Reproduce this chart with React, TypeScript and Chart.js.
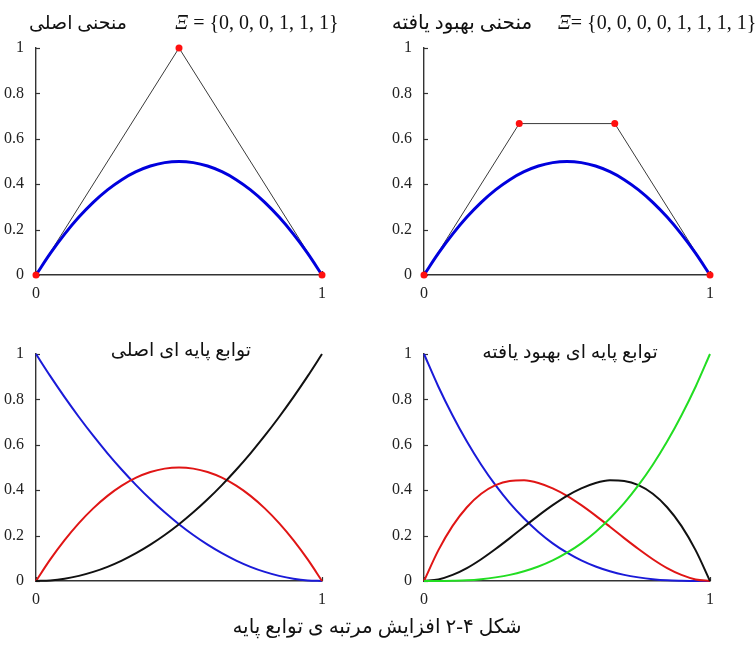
import React, { useEffect, useRef } from "react";
import { Chart, registerables } from "chart.js";

Chart.register(...registerables);

// parameter samples (x positions) shared by all curves
const tValues = [0, 0.05, 0.1, 0.15, 0.2, 0.25, 0.3, 0.35, 0.4, 0.45, 0.5, 0.55, 0.6, 0.65, 0.7, 0.75, 0.8, 0.85, 0.9, 0.95, 1];

// Bezier curve (same in both top plots)
const curveValues = [0, 0.095, 0.18, 0.255, 0.32, 0.375, 0.42, 0.455, 0.48, 0.495, 0.5, 0.495, 0.48, 0.455, 0.42, 0.375, 0.32, 0.255, 0.18, 0.095, 0];

// control polygons
const polyOrigX = [0, 0.5, 1];
const polyOrigY = [0, 1, 0];
const polyElevX = [0, 0.333, 0.667, 1];
const polyElevY = [0, 0.667, 0.667, 0];

// degree-2 basis functions
const basis2Blue = [1, 0.9025, 0.81, 0.7225, 0.64, 0.5625, 0.49, 0.4225, 0.36, 0.3025, 0.25, 0.2025, 0.16, 0.1225, 0.09, 0.0625, 0.04, 0.0225, 0.01, 0.0025, 0];
const basis2Red = [0, 0.095, 0.18, 0.255, 0.32, 0.375, 0.42, 0.455, 0.48, 0.495, 0.5, 0.495, 0.48, 0.455, 0.42, 0.375, 0.32, 0.255, 0.18, 0.095, 0];
const basis2Black = [0, 0.0025, 0.01, 0.0225, 0.04, 0.0625, 0.09, 0.1225, 0.16, 0.2025, 0.25, 0.3025, 0.36, 0.4225, 0.49, 0.5625, 0.64, 0.7225, 0.81, 0.9025, 1];

// degree-3 basis functions
const basis3Blue = [1, 0.857, 0.729, 0.614, 0.512, 0.422, 0.343, 0.275, 0.216, 0.166, 0.125, 0.091, 0.064, 0.043, 0.027, 0.016, 0.008, 0.003, 0.001, 0, 0];
const basis3Red = [0, 0.135, 0.243, 0.325, 0.384, 0.422, 0.441, 0.444, 0.432, 0.408, 0.375, 0.334, 0.288, 0.239, 0.189, 0.141, 0.096, 0.057, 0.027, 0.007, 0];
const basis3Black = [0, 0.007, 0.027, 0.057, 0.096, 0.141, 0.189, 0.239, 0.288, 0.334, 0.375, 0.408, 0.432, 0.444, 0.441, 0.422, 0.384, 0.325, 0.243, 0.135, 0];
const basis3Green = [0, 0, 0.001, 0.003, 0.008, 0.016, 0.027, 0.043, 0.064, 0.091, 0.125, 0.166, 0.216, 0.275, 0.343, 0.422, 0.512, 0.614, 0.729, 0.857, 1];

// tick values and labels
const xTickValues = [0, 1];
const xTickLabels = ["0", "1"];
const yTickValues = [0, 0.2, 0.4, 0.6, 0.8, 1];
const yTickLabels = ["0", "0.2", "0.4", "0.6", "0.8", "1"];

const SERIF = '"Liberation Serif", "Times New Roman", serif';
const PERSIAN = '"Liberation Serif", "DejaVu Sans", serif';
const AXIS_COLOR = "#333333";

const pts = (xs: number[], ys: number[]) => xs.map((x, i) => ({ x, y: ys[i] }));

const inwardTicks = {
  id: "inwardTicks",
  beforeDatasetsDraw(chart: any) {
    const { ctx, chartArea, scales } = chart;
    const x = scales.x;
    const y = scales.y;
    ctx.save();
    ctx.strokeStyle = AXIS_COLOR;
    ctx.lineWidth = 1.2;
    y.ticks.forEach((t: any) => {
      const py = Math.round(y.getPixelForValue(t.value)) + 0.5;
      ctx.beginPath();
      ctx.moveTo(chartArea.left, py);
      ctx.lineTo(chartArea.left + 4, py);
      ctx.stroke();
    });
    x.ticks.forEach((t: any) => {
      const px = Math.round(x.getPixelForValue(t.value)) + 0.5;
      ctx.beginPath();
      ctx.moveTo(px, chartArea.bottom);
      ctx.lineTo(px, chartArea.bottom - 4);
      ctx.stroke();
    });
    ctx.restore();
  },
};

function makeOptions(): any {
  const tickFont = { family: SERIF, size: 16 };
  return {
    animation: false,
    responsive: false,
    maintainAspectRatio: false,
    layout: { padding: { top: 20, right: 23, left: 0, bottom: 0 } },
    plugins: { legend: { display: false }, tooltip: { enabled: false }, title: { display: false } },
    scales: {
      x: {
        type: "linear",
        min: 0,
        max: 1,
        afterBuildTicks: (s: any) => {
          s.ticks = xTickValues.map((v) => ({ value: v }));
        },
        afterFit: (s: any) => {
          s.height = 40;
        },
        grid: { display: false },
        border: { display: true, color: AXIS_COLOR, width: 1.4 },
        ticks: {
          color: "#222",
          font: tickFont,
          padding: 1,
          maxRotation: 0,
          autoSkip: false,
          callback: (v: number) => xTickLabels[xTickValues.indexOf(v)] ?? String(v),
        },
      },
      y: {
        type: "linear",
        min: 0,
        max: 1,
        afterBuildTicks: (s: any) => {
          s.ticks = yTickValues.map((v) => ({ value: v }));
        },
        afterFit: (s: any) => {
          s.width = 36;
        },
        grid: { display: false },
        border: { display: true, color: AXIS_COLOR, width: 1.4 },
        ticks: {
          color: "#222",
          font: tickFont,
          padding: 4,
          autoSkip: false,
          callback: (v: number) => yTickLabels[yTickValues.indexOf(v)] ?? String(v),
        },
      },
    },
  };
}

function lineDs(xs: number[], ys: number[], color: string, width: number): any {
  return {
    data: pts(xs, ys),
    showLine: true,
    borderColor: color,
    borderWidth: width,
    pointRadius: 0,
    fill: false,
    clip: 10,
    cubicInterpolationMode: "monotone",
  };
}

function polyDs(xs: number[], ys: number[]): any {
  return {
    data: pts(xs, ys),
    showLine: true,
    borderColor: "#3a3a3a",
    borderWidth: 1,
    pointRadius: 0,
    fill: false,
    clip: 10,
  };
}

function markerDs(xs: number[], ys: number[]): any {
  return {
    data: pts(xs, ys),
    showLine: false,
    pointRadius: 3.5,
    pointBackgroundColor: "#ff1010",
    pointBorderWidth: 0,
    borderColor: "#ff1010",
    clip: 10,
  };
}

const CANVAS_W = 345;
const CANVAS_H = 287;

function Plot({ left, top, datasets }: { left: number; top: number; datasets: any[] }) {
  const ref = useRef<HTMLCanvasElement | null>(null);
  useEffect(() => {
    if (!ref.current) return;
    const chart = new Chart(ref.current, {
      type: "scatter",
      data: { datasets },
      options: makeOptions(),
      plugins: [inwardTicks],
    } as any);
    return () => chart.destroy();
  }, []);
  return (
    <canvas
      ref={ref}
      width={CANVAS_W}
      height={CANVAS_H}
      style={{ position: "absolute", left, top, width: CANVAS_W, height: CANVAS_H }}
    />
  );
}

function Label({ cx, cy, text, size, font, rtl, italicLead }: any) {
  return (
    <div
      dir={rtl ? "rtl" : "ltr"}
      style={{
        position: "absolute",
        left: cx - 200,
        top: cy - 15,
        width: 400,
        height: 30,
        lineHeight: "30px",
        textAlign: "center",
        fontFamily: font,
        fontSize: size,
        color: "#111",
        whiteSpace: "nowrap",
      }}
    >
      {italicLead ? <i>{italicLead}</i> : null}
      {text}
    </div>
  );
}

export default function App() {
  const blue = "#0000dd";
  return (
    <div style={{ position: "absolute", left: 0, top: 0, width: 755, height: 646, background: "#fff", overflow: "hidden" }}>
      <Plot
        left={0}
        top={28}
        datasets={[
          markerDs(polyOrigX, polyOrigY),
          lineDs(tValues, curveValues, blue, 3),
          polyDs(polyOrigX, polyOrigY),
        ]}
      />
      <Plot
        left={388}
        top={28}
        datasets={[
          markerDs(polyElevX, polyElevY),
          lineDs(tValues, curveValues, blue, 3),
          polyDs(polyElevX, polyElevY),
        ]}
      />
      <Plot
        left={0}
        top={334}
        datasets={[
          lineDs(tValues, basis2Black, "#111111", 2),
          lineDs(tValues, basis2Red, "#e01515", 2),
          lineDs(tValues, basis2Blue, "#1a1ad8", 2),
        ]}
      />
      <Plot
        left={388}
        top={334}
        datasets={[
          lineDs(tValues, basis3Green, "#22dd22", 2),
          lineDs(tValues, basis3Black, "#111111", 2),
          lineDs(tValues, basis3Red, "#e01515", 2),
          lineDs(tValues, basis3Blue, "#1a1ad8", 2),
        ]}
      />
      <Label cx={78} cy={23} text="منحنی اصلی" size={19} font={PERSIAN} rtl />
      <Label cx={257} cy={22} italicLead="Ξ" text=" = {0, 0, 0, 1, 1, 1}" size={20} font={SERIF} />
      <Label cx={462} cy={22} text="منحنی بهبود یافته" size={20} font={PERSIAN} rtl />
      <div
        style={{
          position: "absolute",
          left: 558,
          top: 7,
          height: 30,
          lineHeight: "30px",
          fontFamily: SERIF,
          fontSize: 20,
          color: "#111",
          whiteSpace: "nowrap",
        }}
      >
        <i>Ξ</i>= {"{0, 0, 0, 0, 1, 1, 1, 1}"}
      </div>
      <Label cx={181} cy={350} text="توابع پایه ای اصلی" size={19} font={PERSIAN} rtl />
      <Label cx={570} cy={352} text="توابع پایه ای بهبود یافته" size={19} font={PERSIAN} rtl />
      <Label cx={377} cy={626} text="شکل ۴-۲ افزایش مرتبه ی توابع پایه" size={20} font={PERSIAN} rtl />
    </div>
  );
}
